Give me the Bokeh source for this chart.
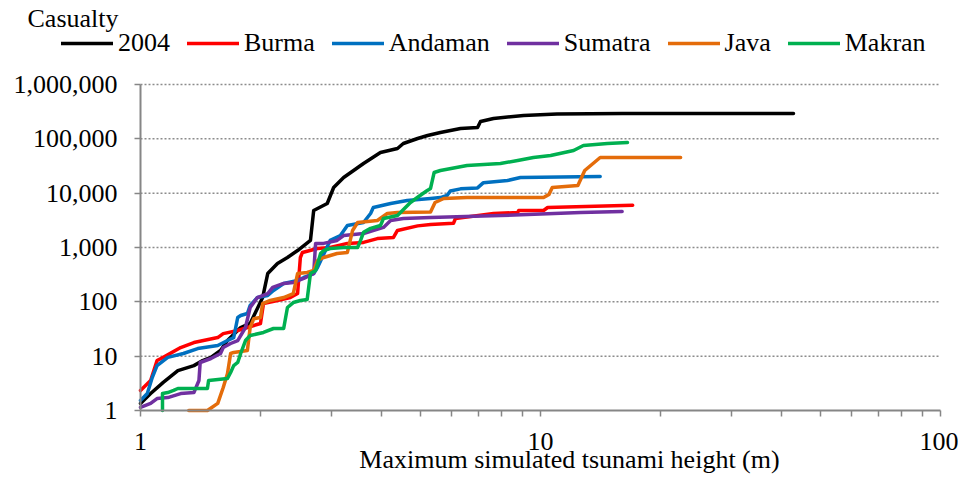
from bokeh.plotting import figure
from bokeh.models import (Range1d, FixedTicker, NumeralTickFormatter, Legend,
                          LegendItem, Label)
from bokeh.embed import file_html
from bokeh.resources import INLINE

# ---------------- data ----------------
x_2004 = [1.0, 1.06, 1.14, 1.24, 1.36, 1.43, 1.50, 1.585, 1.65, 1.78, 1.88, 2.02, 2.08,
          2.20, 2.33, 2.47, 2.66, 2.71, 2.93, 3.04, 3.22, 3.41, 3.61, 3.98, 4.39, 4.54,
          4.93, 5.22, 5.62, 6.31, 6.96, 7.08, 7.63, 9.07, 11.0, 13.3, 16.0, 42.9]
y_2004 = [1.35, 2.05, 3.3, 5.4, 6.7, 8.3, 9.5, 12.7, 19.4, 33.7, 40, 120, 332, 508, 655,
          880, 1350, 4800, 6460, 12700, 19400, 26100, 35200, 56100, 66400, 82100, 101500,
          115000, 131000, 155000, 162000, 208000, 237000, 269000, 285000, 290000, 293000,
          293000]

x_burma = [1.0, 1.06, 1.10, 1.14, 1.26, 1.36, 1.56, 1.61, 1.75, 1.85, 1.995, 2.03, 2.20,
           2.37, 2.47, 2.51, 2.54, 2.77, 2.98, 3.29, 3.61, 3.91, 4.29, 4.39, 4.93, 5.31,
           6.06, 6.13, 7.63, 8.77, 8.82, 10.18, 10.42, 17.0]
y_burma = [2.34, 3.57, 8.3, 9.5, 14.4, 17.8, 22, 26, 29.7, 33.7, 40, 93, 106, 120, 142,
           655, 810, 960, 1000, 1190, 1240, 1460, 1530, 2060, 2500, 2650, 2800, 3420, 4230,
           4410, 4800, 4800, 5450, 6000]

x_andaman = [1.0, 1.04, 1.07, 1.10, 1.17, 1.28, 1.39, 1.56, 1.65, 1.71, 1.75, 1.78, 1.85,
             1.88, 1.96, 2.08, 2.15, 2.28, 2.47, 2.56, 2.71, 2.77, 2.98, 3.16, 3.29, 3.61,
             3.76, 3.82, 4.22, 4.64, 5.31, 5.62, 5.84, 5.95, 6.31, 6.96, 7.2, 8.27, 8.91, 14.1]
y_andaman = [1.53, 2.05, 4.05, 6.7, 9.5, 11.2, 13.8, 15.7, 19.4, 22, 51.5, 56, 61, 86, 120,
             131, 162, 218, 247, 281, 332, 428, 1350, 1660, 2540, 2890, 4230, 5450, 6460,
             7330, 7980, 8300, 9060, 11000, 12000, 12500, 15600, 17100, 19400, 20300]

x_sumatra = [1.0, 1.06, 1.10, 1.17, 1.26, 1.36, 1.40, 1.41, 1.50, 1.585, 1.61, 1.68, 1.75,
             1.83, 1.88, 1.96, 2.08, 2.14, 2.28, 2.41, 2.56, 2.71, 2.74, 2.87, 3.10, 3.22,
             3.61, 4.05, 4.22, 4.54, 5.31, 7.94, 12.6, 16.0]
y_sumatra = [1.14, 1.35, 1.66, 1.73, 2.05, 2.14, 3.57, 7.65, 9.06, 11.2, 14.4, 17.1, 19.4,
             33.7, 78.7, 120, 142, 184, 218, 227, 269, 332, 1190, 1190, 1350, 1660, 1810,
             2340, 3140, 3420, 3570, 3880, 4410, 4600]

x_java = [1.32, 1.47, 1.56, 1.61, 1.65, 1.68, 1.71, 1.85, 1.88, 1.92, 1.995, 2.02, 2.11,
          2.28, 2.41, 2.47, 2.61, 2.71, 2.77, 2.87, 3.10, 3.29, 3.39, 3.49, 3.91, 4.14,
          4.39, 5.31, 5.45, 5.73, 6.55, 10.18, 10.5, 10.7, 12.4, 12.9, 14.1, 22.4]
y_java = [1, 1, 1.35, 2.65, 4.8, 11.2, 11.7, 12.7, 33.7, 49, 51.5, 93, 106, 120, 142, 332,
          347, 377, 577, 655, 776, 810, 2060, 2890, 3140, 4230, 4410, 4500, 6730, 7980,
          8320, 8320, 9500, 12700, 13800, 26100, 45400, 45400]

x_makran = [1.135, 1.135, 1.17, 1.21, 1.24, 1.47, 1.48, 1.65, 1.68, 1.71, 1.75, 1.78, 1.83,
            1.88, 2.03, 2.15, 2.28, 2.33, 2.41, 2.51, 2.61, 2.66, 2.74, 2.82, 2.87, 2.98,
            3.22, 3.49, 3.55, 3.61, 3.76, 3.98, 4.05, 4.39, 4.73, 5.0, 5.2, 5.31, 5.42,
            5.62, 6.55, 7.94, 8.77, 9.6, 10.6, 12.1, 12.8, 14.7, 16.5]
y_makran = [1, 2.05, 2.14, 2.34, 2.54, 2.54, 3.57, 3.88, 5.0, 6.7, 7.65, 11.2, 19.4, 24,
            27.3, 32.3, 32.3, 78.7, 97, 106, 110, 332, 377, 776, 880, 960, 1000, 1000, 1350,
            1900, 2250, 2540, 3420, 3880, 6730, 9060, 11100, 12200, 24000, 26100, 32300,
            35200, 39900, 45400, 49400, 61000, 75500, 82100, 85700]

series_names = ["2004", "Burma", "Andaman", "Sumatra", "Java", "Makran"]
series_colors = ["#000000", "#FF0000", "#0070C0", "#7030A0", "#E46C0A", "#00B050"]
series_x = [x_2004, x_burma, x_andaman, x_sumatra, x_java, x_makran]
series_y = [y_2004, y_burma, y_andaman, y_sumatra, y_java, y_makran]

x_major = [1, 10, 100]
x_minor = [2, 3, 4, 5, 6, 7, 8, 9, 20, 30, 40, 50, 60, 70, 80, 90]
y_major = [1, 10, 100, 1000, 10000, 100000, 1000000]

x_title = "Maximum simulated tsunami height (m)"
y_title = "Casualty"

# ---------------- layout geometry (screen pixels) ----------------
W, H = 958, 477
AX_LEFT, AX_RIGHT = 140, 940      # pixel of x=1 and x=100
AX_BOTTOM, AX_TOP = 410, 84       # pixel of y=1 and y=1e6

FONT = "Liberation Serif"
FS = "26px"
AXIS_GRAY = "#868686"

# extend the data ranges so that the whole canvas is the frame, with the
# axes fixed at x=1 / y=1 (so labels and legend are inside the frame)
px_per_dec_x = (AX_RIGHT - AX_LEFT) / 2.0
px_per_dec_y = (AX_BOTTOM - AX_TOP) / 6.0
x_lo = 10 ** (-AX_LEFT / px_per_dec_x)
x_hi = 10 ** ((W - AX_LEFT) / px_per_dec_x)
y_lo = 10 ** (-(H - AX_BOTTOM) / px_per_dec_y)
y_hi = 10 ** (AX_BOTTOM / px_per_dec_y)

p = figure(width=W, height=H, x_axis_type="log", y_axis_type="log",
           x_range=Range1d(x_lo, x_hi), y_range=Range1d(y_lo, y_hi),
           output_backend="svg", toolbar_location=None,
           min_border_left=0, min_border_right=0, min_border_top=0,
           min_border_bottom=0)
p.outline_line_color = None
p.background_fill_color = "white"
p.border_fill_color = "white"
p.xgrid.visible = False
p.ygrid.visible = False

# dotted horizontal gridlines at the y ticks, spanning the x axis extent
grid_y = y_major[1:]
p.segment(x0=[x_major[0]] * len(grid_y), x1=[x_major[-1]] * len(grid_y),
          y0=grid_y, y1=grid_y, line_color="#8c8c8c", line_width=1.5,
          line_dash="2 2")

# x axis
xa = p.xaxis[0]
xa.fixed_location = y_major[0]
xa.bounds = (x_major[0], x_major[-1])
xa.ticker = FixedTicker(ticks=x_major, minor_ticks=x_minor)
xa.axis_line_color = AXIS_GRAY
xa.axis_line_width = 2
xa.major_tick_line_color = AXIS_GRAY
xa.minor_tick_line_color = AXIS_GRAY
xa.major_tick_line_width = 1.5
xa.minor_tick_line_width = 1.5
xa.major_tick_in = 0
xa.major_tick_out = 6
xa.minor_tick_in = 0
xa.minor_tick_out = 6
xa.major_label_standoff = 16
xa.major_label_text_font = FONT
xa.major_label_text_font_size = FS
xa.major_label_text_color = "black"
xa.formatter = NumeralTickFormatter(format="0,0")

# y axis
ya = p.yaxis[0]
ya.fixed_location = x_major[0]
ya.bounds = (y_major[0], y_major[-1])
ya.ticker = FixedTicker(ticks=y_major, minor_ticks=[])
ya.axis_line_color = AXIS_GRAY
ya.axis_line_width = 2
ya.major_tick_line_color = AXIS_GRAY
ya.major_tick_line_width = 1.5
ya.major_tick_in = 0
ya.major_tick_out = 6
ya.minor_tick_line_color = None
ya.major_label_standoff = 17
ya.major_label_text_font = FONT
ya.major_label_text_font_size = FS
ya.major_label_text_color = "black"
ya.formatter = NumeralTickFormatter(format="0,0")

items = []
for name, col, xs, ys in zip(series_names, series_colors, series_x, series_y):
    r = p.line(xs, ys, line_color=col, line_width=3.5, line_join="round",
               line_cap="round")
    items.append(LegendItem(label=name, renderers=[r]))

legend = Legend(items=items, orientation="horizontal", location=(61, H - 58),
                glyph_width=52, glyph_height=20, label_standoff=5, spacing=17,
                padding=0, margin=0, border_line_color=None,
                background_fill_alpha=0, label_text_font=FONT,
                label_text_font_size=FS, label_text_color="black")
p.add_layout(legend, "center")

p.add_layout(Label(x=27, y=H - 18, x_units="screen", y_units="screen", text=y_title,
                   text_font=FONT, text_font_size=FS, text_color="black",
                   text_baseline="alphabetic", text_align="left"))
p.add_layout(Label(x=569, y=H - 459, x_units="screen", y_units="screen", text=x_title,
                   text_font=FONT, text_font_size=FS, text_color="black",
                   text_baseline="alphabetic", text_align="center"))

open("out.html", "w").write(file_html(p, INLINE))
